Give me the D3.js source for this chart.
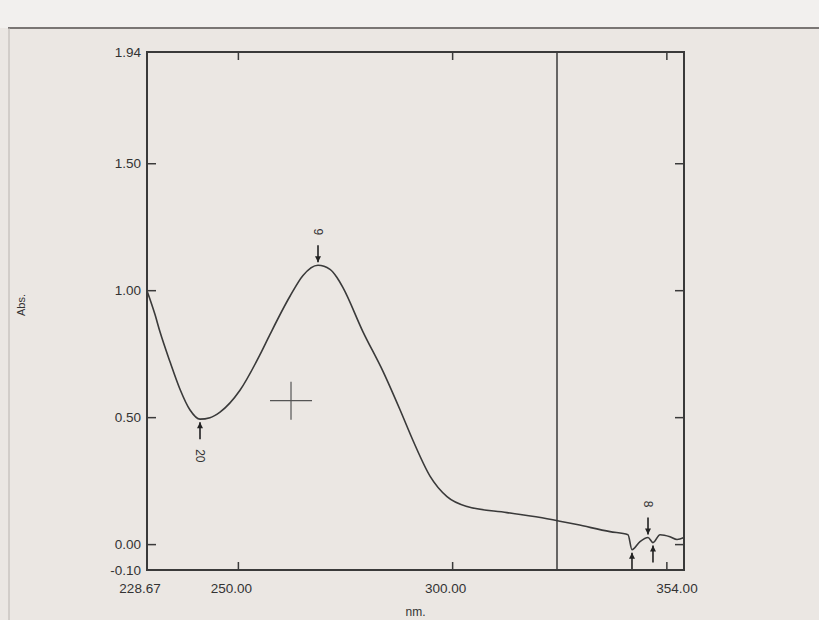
<!DOCTYPE html>
<html>
<head>
<meta charset="utf-8">
<script src="https://cdn.jsdelivr.net/npm/d3@7"></script>
<style>
  html, body { margin: 0; padding: 0; background: #ebe7e3; }
  svg { display: block; }
  .tick-label { font: 13.5px "Liberation Sans", Arial, sans-serif; fill: #333; }
</style>
</head>
<body>
<svg id="chart" width="819" height="620"></svg>
<script>
// spectrum, wavelength (nm) vs absorbance
var wavelength = [228.67, 230.54, 231.70, 234.04, 236.37, 238.71, 241.04, 243.37, 245.71, 250.37,
  255.04, 257.38, 262.04, 265.08, 268.58, 271.38, 273.01, 274.41, 279.08, 283.75,
  287.72, 290.75, 294.72, 298.69, 303.36, 312.69, 322.03, 329.03, 336.73, 340.93,
  341.86, 343.73, 345.60, 346.76, 348.40, 350.73, 352.37, 354.00];
var absorbance = [1.00, 0.906, 0.838, 0.720, 0.612, 0.530, 0.494, 0.500, 0.522, 0.608,
  0.748, 0.828, 0.978, 1.060, 1.100, 1.084, 1.052, 1.012, 0.838, 0.682,
  0.531, 0.410, 0.270, 0.189, 0.150, 0.126, 0.102, 0.079, 0.051, 0.039,
  -0.020, 0.012, 0.028, 0.008, 0.039, 0.031, 0.020, 0.028];

// peak / valley picks: label, wavelength, absorbance, arrow side
var pickLabels = ["20", "9", "8", "", ""];
var pickNm = [241.04, 268.58, 345.60, 341.86, 346.76];
var pickAbs = [0.494, 1.100, 0.028, -0.020, 0.008];
var pickSide = ["below", "above", "above", "below", "below"];

var xTicks = [250, 300, 350];
var xTickLabels = [228.67, 250, 300, 354];
var yTicks = [0, 0.5, 1.0, 1.5];
var yTickLabels = [-0.10, 0.00, 0.50, 1.00, 1.50, 1.94];

var cursorNm = 324.36;
var crossNm = 262.28, crossAbs = 0.567;

var svg = d3.select("#chart"),
    margin = {top: 52, right: 135, bottom: 50, left: 147},
    width = 819 - margin.left - margin.right,
    height = 620 - margin.top - margin.bottom,
    g = svg.append("g").attr("transform", "translate(" + margin.left + "," + margin.top + ")");

// screen frame around the plot window
svg.append("rect").attr("x", 0).attr("y", 0).attr("width", 819).attr("height", 28).attr("fill", "#f2f0ee");
svg.append("line").attr("x1", 8).attr("x2", 819).attr("y1", 28).attr("y2", 28)
    .attr("stroke", "#7a7674").attr("stroke-width", 2);
svg.append("line").attr("x1", 9).attr("x2", 9).attr("y1", 28).attr("y2", 620)
    .attr("stroke", "#b8b3af").attr("stroke-width", 1);

var x = d3.scaleLinear().domain([228.67, 354.00]).range([0, width]);
var y = d3.scaleLinear().domain([-0.10, 1.94]).range([height, 0]);

var data = wavelength.map(function(w, i) { return {nm: w, abs: absorbance[i]}; });

var line = d3.line()
    .curve(d3.curveMonotoneX)
    .x(function(d) { return x(d.nm); })
    .y(function(d) { return y(d.abs); });

// inner ticks on all four sides
var ink = "#3a3a3a";
xTicks.forEach(function(t) {
  g.append("line").attr("x1", x(t)).attr("x2", x(t)).attr("y1", height).attr("y2", height - 8)
    .attr("stroke", ink).attr("stroke-width", 1.5);
  g.append("line").attr("x1", x(t)).attr("x2", x(t)).attr("y1", 0).attr("y2", 8)
    .attr("stroke", ink).attr("stroke-width", 1.5);
});
yTicks.forEach(function(t) {
  g.append("line").attr("x1", 0).attr("x2", 9).attr("y1", y(t)).attr("y2", y(t))
    .attr("stroke", ink).attr("stroke-width", 1.5);
  g.append("line").attr("x1", width).attr("x2", width - 9).attr("y1", y(t)).attr("y2", y(t))
    .attr("stroke", ink).attr("stroke-width", 1.5);
});

// tick labels
g.selectAll(".ylab").data(yTickLabels).enter().append("text")
    .attr("class", "tick-label")
    .attr("x", -6)
    .attr("y", function(d) { return y(d); })
    .attr("dy", "0.35em")
    .attr("text-anchor", "end")
    .text(function(d) { return d.toFixed(2); });

g.selectAll(".xlab").data(xTickLabels).enter().append("text")
    .attr("class", "tick-label")
    .attr("x", function(d) { return x(d) - 7; })
    .attr("y", height + 23)
    .attr("text-anchor", "middle")
    .text(function(d) { return d.toFixed(2); });

g.append("text").attr("class", "tick-label")
    .attr("x", x(289)).attr("y", height + 46)
    .style("font-size", "12px")
    .text("nm.");

svg.append("text").attr("class", "tick-label")
    .attr("transform", "translate(25,305) rotate(-90)")
    .attr("text-anchor", "middle")
    .style("font-size", "11px")
    .text("Abs.");

// spectrum
g.append("path")
    .datum(data)
    .attr("fill", "none")
    .attr("stroke", ink)
    .attr("stroke-width", 1.6)
    .attr("d", line);

// cursor line and crosshair
g.append("line").attr("x1", x(cursorNm)).attr("x2", x(cursorNm)).attr("y1", 0).attr("y2", height)
    .attr("stroke", ink).attr("stroke-width", 1.5);
var cx = x(crossNm), cy = y(crossAbs);
g.append("line").attr("x1", cx - 21).attr("x2", cx + 21).attr("y1", cy).attr("y2", cy)
    .attr("stroke", "#555").attr("stroke-width", 1.2);
g.append("line").attr("x1", cx).attr("x2", cx).attr("y1", cy - 19).attr("y2", cy + 19)
    .attr("stroke", "#555").attr("stroke-width", 1.2);

// pick arrows and labels
pickNm.forEach(function(w, i) {
  var px = x(w), py = y(pickAbs[i]);
  var s = pickSide[i] === "above" ? -1 : 1;
  var tip = py + s * 3, tail = py + s * 20;
  g.append("line").attr("x1", px).attr("x2", px).attr("y1", tail).attr("y2", tip)
    .attr("stroke", "#222").attr("stroke-width", 1.6);
  g.append("path")
    .attr("d", "M" + (px - 3) + "," + (tip + s * 6) + "L" + px + "," + tip + "L" + (px + 3) + "," + (tip + s * 6) + "Z")
    .attr("fill", "#222");
  if (pickLabels[i]) {
    g.append("text").attr("class", "tick-label")
      .attr("transform", "translate(" + px + "," + (py + s * 30) + ") rotate(90)")
      .attr("text-anchor", s < 0 ? "end" : "start")
      .attr("dy", "0.35em")
      .style("font-size", "12px")
      .text(pickLabels[i]);
  }
});

// frame
g.append("rect").attr("x", 0).attr("y", 0).attr("width", width).attr("height", height)
    .attr("fill", "none").attr("stroke", ink).attr("stroke-width", 2);
</script>
</body>
</html>
